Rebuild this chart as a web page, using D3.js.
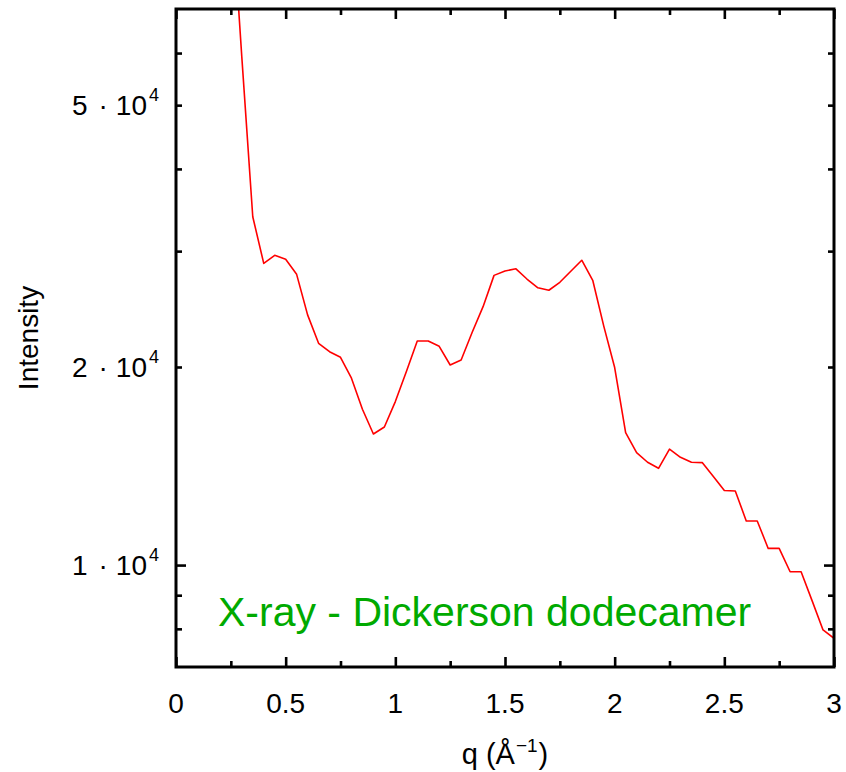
<!DOCTYPE html>
<html>
<head>
<meta charset="utf-8">
<script src="https://cdn.jsdelivr.net/npm/d3@7"></script>
<style>
  html, body { margin: 0; padding: 0; background: #fff; }
  svg { display: block; }
  text { font-family: "Liberation Sans", Arial, Helvetica, sans-serif; }
</style>
</head>
<body>
<svg id="chart" width="846" height="772"></svg>
<script>
// ---------- data ----------
const qValues = [0.25, 0.30, 0.35, 0.40, 0.45, 0.50, 0.55, 0.60, 0.65, 0.70,
  0.75, 0.80, 0.85, 0.90, 0.95, 1.00, 1.05, 1.10, 1.15, 1.20,
  1.25, 1.30, 1.35, 1.40, 1.45, 1.50, 1.55, 1.60, 1.65, 1.70,
  1.75, 1.80, 1.85, 1.90, 1.95, 2.00, 2.05, 2.10, 2.15, 2.20,
  2.25, 2.30, 2.35, 2.40, 2.45, 2.50, 2.55, 2.60, 2.65, 2.70,
  2.75, 2.80, 2.85, 2.90, 2.95, 3.00];
const intensity = [106000, 59200, 33840, 28740, 29560, 29150, 27660, 24000, 21730, 21100,
  20690, 19230, 17250, 15820, 16210, 17720, 19670, 21900, 21900, 21500,
  20140, 20500, 22560, 24700, 27560, 27980, 28200, 27210, 26390, 26160,
  26900, 27960, 29060, 27090, 23100, 19960, 15890, 14820, 14330, 14030,
  15000, 14580, 14330, 14310, 13630, 12980, 12960, 11670, 11670, 10600,
  10600, 9770, 9770, 8830, 7970, 7740];

const xDomain = [0, 3];
const yDomain = [7000, 70000];
const xMajorTicks = [0, 0.5, 1, 1.5, 2, 2.5, 3];
const xMinorTicks = [0.25, 0.75, 1.25, 1.75, 2.25, 2.75];
const xTickLabels = ["0", "0.5", "1", "1.5", "2", "2.5", "3"];
const yMajorTicks = [10000];
const yMinorTicks = [8000, 9000, 20000, 30000, 40000, 50000, 60000];
const yLabelValues = [10000, 20000, 50000];
const yLabelMantissa = ["1", "2", "5"];
const yLabelExponent = "4";
const xTitle = "q (Å";
const xTitleSup = "\u22121";
const yTitle = "Intensity";
const annotation = "X-ray - Dickerson dodecamer";

// ---------- layout ----------
const L = 176, R = 834, T = 9, B = 667;
const svg = d3.select("#chart");
const x = d3.scaleLinear().domain(xDomain).range([L, R]);
const y = d3.scaleLog().domain(yDomain).range([B, T]);

svg.append("defs").append("clipPath").attr("id", "clip")
  .append("rect").attr("x", L).attr("y", T).attr("width", R - L).attr("height", B - T);

// data line
const line = d3.line().x((d, i) => x(qValues[i])).y(d => y(d));
svg.append("path")
  .datum(intensity)
  .attr("clip-path", "url(#clip)")
  .attr("fill", "none")
  .attr("stroke", "#ff0000")
  .attr("stroke-width", 1.6)
  .attr("stroke-linejoin", "round")
  .attr("d", line);

// ticks using d3 axes (inward)
function addAxis(axis, tx, ty) {
  const g = svg.append("g").attr("transform", `translate(${tx},${ty})`).call(axis);
  g.select(".domain").remove();
  g.selectAll("line").attr("stroke", "#000").attr("stroke-width", 2.6);
  g.selectAll("text").remove();
}
addAxis(d3.axisBottom(x).tickValues(xMajorTicks).tickSize(-10).tickFormat(""), 0, B);
addAxis(d3.axisBottom(x).tickValues(xMinorTicks).tickSize(-6).tickFormat(""), 0, B);
addAxis(d3.axisTop(x).tickValues(xMajorTicks).tickSize(-10).tickFormat(""), 0, T);
addAxis(d3.axisTop(x).tickValues(xMinorTicks).tickSize(-6).tickFormat(""), 0, T);
addAxis(d3.axisLeft(y).tickValues(yMajorTicks).tickSize(-10).tickFormat(""), L, 0);
addAxis(d3.axisLeft(y).tickValues(yMinorTicks).tickSize(-6).tickFormat(""), L, 0);
addAxis(d3.axisRight(y).tickValues(yMajorTicks).tickSize(-10).tickFormat(""), R, 0);
addAxis(d3.axisRight(y).tickValues(yMinorTicks).tickSize(-6).tickFormat(""), R, 0);

// frame
svg.append("rect")
  .attr("x", L).attr("y", T).attr("width", R - L).attr("height", B - T)
  .attr("fill", "none").attr("stroke", "#000").attr("stroke-width", 3);

// x tick labels
svg.append("g").selectAll("text")
  .data(xMajorTicks)
  .join("text")
  .attr("x", d => x(d))
  .attr("y", 713)
  .attr("text-anchor", "middle")
  .attr("font-size", 28)
  .attr("fill", "#000")
  .text((d, i) => xTickLabels[i]);

// y tick labels
const yl = svg.append("g").selectAll("text")
  .data(yLabelValues)
  .join("text")
  .attr("x", 159)
  .attr("y", d => y(d) + 10)
  .attr("text-anchor", "end")
  .attr("font-size", 28)
  .attr("fill", "#000");
yl.append("tspan").text((d, i) => yLabelMantissa[i]);
yl.append("tspan").attr("dx", 11).text("\u00B7");
yl.append("tspan").attr("dx", 8).text("10");
yl.append("tspan").attr("dy", -14).attr("font-size", 18).attr("dx", 2).text(yLabelExponent);

// x title
const xt = svg.append("text")
  .attr("x", (L + R) / 2)
  .attr("y", 764)
  .attr("text-anchor", "middle")
  .attr("font-size", 29)
  .attr("fill", "#000");
xt.append("tspan").text(xTitle);
xt.append("tspan").attr("dy", -12).attr("font-size", 19).attr("dx", 1).text(xTitleSup);
xt.append("tspan").attr("dy", 12).attr("dx", 1).text(")");

// y title
svg.append("text")
  .attr("transform", `translate(38,${(T + B) / 2}) rotate(-90)`)
  .attr("text-anchor", "middle")
  .attr("font-size", 28)
  .attr("fill", "#000")
  .text(yTitle);

// annotation
svg.append("text")
  .attr("x", 218)
  .attr("y", 626)
  .attr("font-size", 41)
  .attr("fill", "#00aa00")
  .text(annotation);
</script>
</body>
</html>
